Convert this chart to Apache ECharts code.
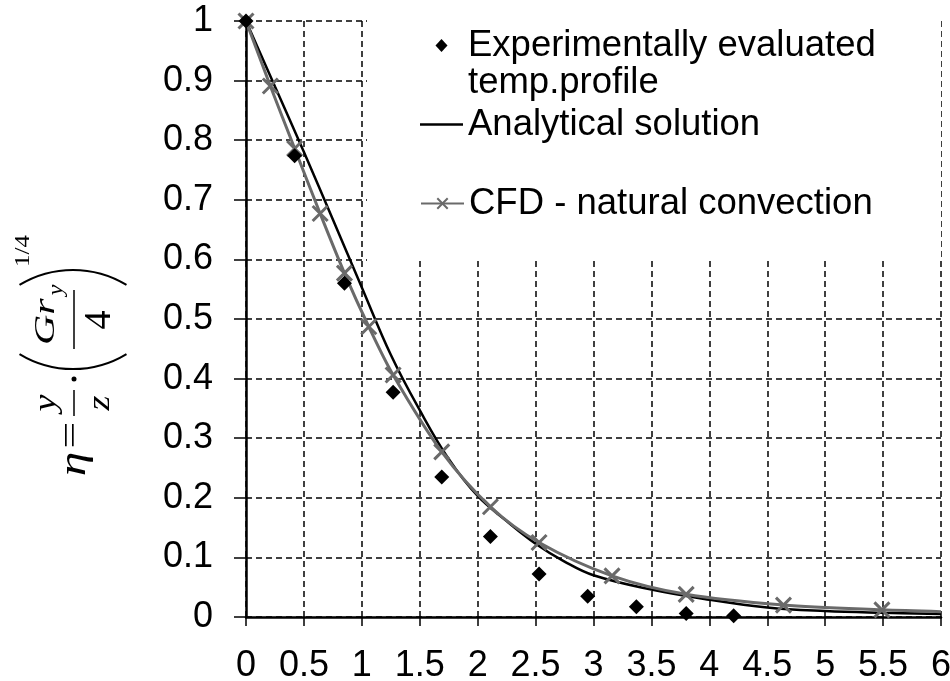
<!DOCTYPE html>
<html>
<head>
<meta charset="utf-8">
<script src="https://cdn.jsdelivr.net/npm/echarts@6/dist/echarts.min.js"></script>
<style>html,body{margin:0;padding:0;background:#fff;}#chart{width:950px;height:681px;}</style>
</head>
<body>
<div id="chart"></div>
<script>
// ---- data ----
const expName = 'Experimentally evaluated\ntemp.profile';
const anaName = 'Analytical solution';
const cfdName = 'CFD - natural convection';

const expX = [0, 0.42, 0.85, 1.27, 1.69, 2.11, 2.53, 2.95, 3.37, 3.80, 4.21];
const expY = [1.0, 0.774, 0.560, 0.377, 0.235, 0.135, 0.072, 0.035, 0.017, 0.006, 0.002];

const anaX = [0, 0.25, 0.5, 0.75, 1.0, 1.25, 1.5, 1.75, 2.0, 2.25, 2.5, 2.75, 3.0, 3.5, 4.0, 4.5, 5.0, 5.5, 6.0];
const anaY = [1.0, 0.89, 0.78, 0.667, 0.553, 0.44, 0.347, 0.265, 0.203, 0.161, 0.123, 0.093, 0.07, 0.046, 0.029, 0.016, 0.01, 0.007, 0.005];

const cfdX = [0, 0.21, 0.42, 0.64, 0.85, 1.06, 1.27, 1.69, 2.11, 2.53, 3.16, 3.80, 4.64, 5.49, 6.0];
const cfdY = [1.0, 0.891, 0.786, 0.677, 0.577, 0.487, 0.406, 0.277, 0.185, 0.125, 0.069, 0.038, 0.020, 0.012, 0.009];

const xMin = 0, xMax = 6, xStep = 0.5;
const yMin = 0, yMax = 1, yStep = 0.1;

// ---- chart ----
const SANS = "'Liberation Sans', Arial, sans-serif";
const SERIF = "'Liberation Serif', 'Times New Roman', serif";
const GRAY = '#6a6a6a';
const crossPath = 'path://M0,0L10,10M10,0L0,10';
// legend icons: invisible corner points fix the box so the shapes keep their proportions
const diamondIcon = 'path://M0,0L0,0M43,13L43,13M21.5,0L27.5,6.5L21.5,13L15.5,6.5Z';
const lineIcon = 'path://M0,0L0,0M43,13L43,13M0,5.25L43,5.25L43,7.75L0,7.75Z';

const chart = echarts.init(document.getElementById('chart'), null, {renderer: 'canvas'});

const expData = expX.map((x, i) => [x, expY[i]]);
const anaData = anaX.map((x, i) => [x, anaY[i]]);
const cfdData = cfdX.map((x, i) => i === cfdX.length - 1 ? {value: [x, cfdY[i]], symbol: 'none'} : [x, cfdY[i]]);

const axisCommon = {
  type: 'value',
  axisLine: {show: true, onZero: false, lineStyle: {color: '#000', width: 2.5}},
  axisLabel: {color: '#000', fontSize: 36, fontFamily: SANS},
  splitLine: {show: true, lineStyle: {color: '#000', width: 1.5, type: [6, 4]}},
  z: 0
};

function legendItem(name, top, icon) {
  const item = {name: name};
  if (icon) item.icon = icon;
  return {
    data: [item],
    left: 420,
    top: top,
    orient: 'vertical',
    padding: 0,
    itemWidth: 43,
    itemHeight: 13,
    itemGap: 0,
    selectedMode: false,
    formatter: (n) => n === expName ? '\n' + n : n,
    textStyle: {fontSize: 36.5, lineHeight: 37, color: '#000', fontFamily: SANS}
  };
}

function ftext(t, x, y, size, opts) {
  opts = opts || {};
  return {
    type: 'text', x: x, y: y, scaleX: opts.sx || 1, z: 10,
    style: {
      text: t, fontSize: size, fontFamily: SERIF, fontStyle: opts.italic ? 'italic' : 'normal',
      align: opts.align || 'center', verticalAlign: 'middle', fill: '#000'
    }
  };
}

const option = {
  backgroundColor: '#fff',
  animation: false,
  grid: {left: 246, right: 9, top: 21, bottom: 64, containLabel: false, outerBoundsMode: 'none'},
  xAxis: Object.assign({}, axisCommon, {
    min: xMin, max: xMax, interval: xStep,
    axisTick: {show: true, length: 9, lineStyle: {color: '#000', width: 1.5}},
    axisLabel: Object.assign({}, axisCommon.axisLabel, {margin: 31})
  }),
  yAxis: Object.assign({}, axisCommon, {
    min: yMin, max: yMax, interval: yStep,
    axisTick: {show: true, length: 12, lineStyle: {color: '#000', width: 1.5}},
    axisLabel: Object.assign({}, axisCommon.axisLabel, {margin: 33})
  }),
  legend: [
    legendItem(expName, -10, diamondIcon),
    legendItem(anaName, 106, lineIcon),
    legendItem(cfdName, 185)
  ],
  graphic: [
    {type: 'rect', z: 1, silent: true, shape: {x: 367, y: 0, width: 574, height: 261}, style: {fill: '#fff'}},
    {
      type: 'group', x: 72, y: 357, rotation: Math.PI / 2, z: 10,
      children: [
        ftext('η', -107, 3, 38, {italic: true, sx: 1.3}),
        ftext('=', -78, 0, 34, {sx: 1.4}),
        ftext('y', -46, -25, 32, {italic: true, sx: 1.2}),
        {type: 'line', z: 10, shape: {x1: -59, y1: 2, x2: -33, y2: 2}, style: {stroke: '#000', lineWidth: 1.5}},
        ftext('z', -46, 29, 32, {italic: true, sx: 1.2}),
        {type: 'circle', z: 10, shape: {cx: -22, cy: 2, r: 2.5}, style: {fill: '#000'}},
        {type: 'arc', z: 10, shape: {cx: 91, cy: 1, r: 103, startAngle: Math.PI - 0.546, endAngle: Math.PI + 0.546, clockwise: true}, style: {stroke: '#000', lineWidth: 2, fill: null}},
        ftext('Gr', 12, -26, 30, {italic: true, sx: 1.4, align: 'left'}),
        ftext('y', 67, -15, 20, {italic: true, sx: 1.2}),
        {type: 'line', z: 10, shape: {x1: 8, y1: 2, x2: 67, y2: 2}, style: {stroke: '#000', lineWidth: 1.5}},
        ftext('4', 37, 28, 38, {}),
        {type: 'arc', z: 10, shape: {cx: -16, cy: 1, r: 103, startAngle: -0.546, endAngle: 0.546, clockwise: true}, style: {stroke: '#000', lineWidth: 2, fill: null}},
        ftext('1/4', 106, -48, 20, {sx: 1.25})
      ]
    }
  ],
  series: [
    {
      name: anaName, type: 'line', data: anaData, z: 2,
      smooth: 0.4, symbol: 'none', showSymbol: false,
      lineStyle: {color: '#000', width: 2.5}, itemStyle: {color: '#000'}
    },
    {
      name: cfdName, type: 'line', data: cfdData, z: 3,
      smooth: 0.3,
      symbol: crossPath, symbolSize: 15, showSymbol: true,
      lineStyle: {color: GRAY, width: 3},
      itemStyle: {color: GRAY, borderColor: GRAY, borderWidth: 3, opacity: 1}
    },
    {
      name: expName, type: 'scatter', data: expData, z: 5,
      symbol: 'diamond', symbolSize: 15,
      itemStyle: {color: '#000', opacity: 1}
    }
  ]
};

chart.setOption(option);
</script>
</body>
</html>
